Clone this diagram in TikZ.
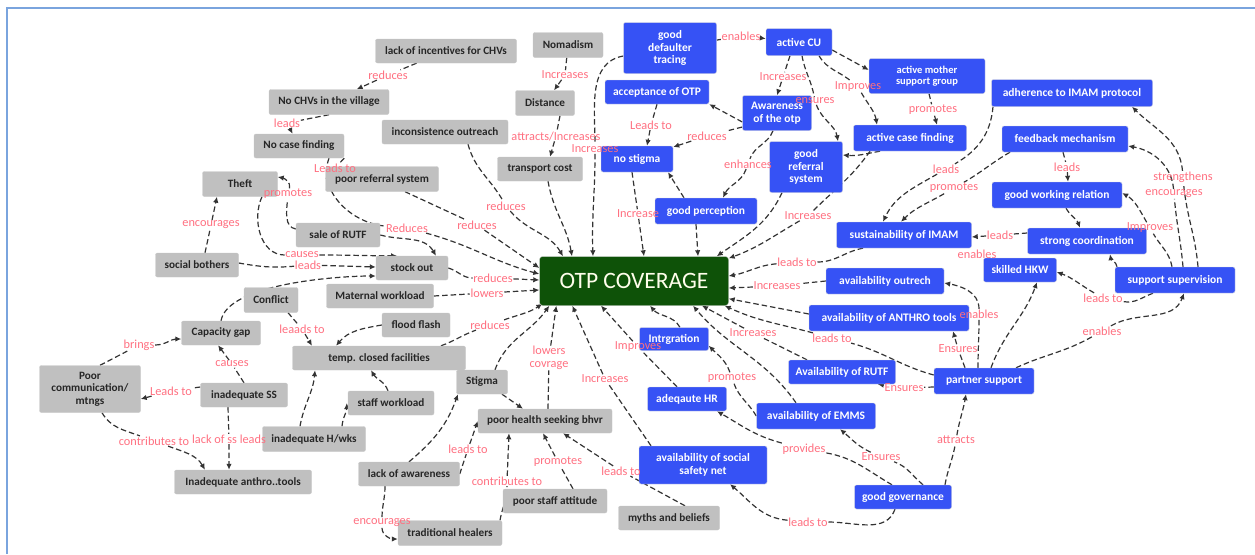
\documentclass[tikz,border=0pt]{standalone}
\usepackage{fontspec}
\setmainfont{Carlito}
\usetikzlibrary{arrows.meta,backgrounds}
\definecolor{boxgray}{HTML}{C0C0C0}
\definecolor{boxblue}{HTML}{3652F5}
\definecolor{otpgreen}{HTML}{0E5208}
\definecolor{lblpink}{HTML}{FF6F80}
\definecolor{linegray}{HTML}{333333}
\definecolor{framecol}{HTML}{7AA4DE}
\tikzset{
  sz/.style 2 args={minimum width=#1pt, minimum height=#2pt},
  gbox/.style={draw=black!22, fill=boxgray, rounded corners=2pt, text=black!85,
    font=\bfseries\fontsize{11.2}{12.5}\selectfont, inner sep=1pt, align=center},
  bbox/.style={draw=black!15, fill=boxblue, rounded corners=2pt, text=white,
    font=\bfseries\fontsize{11.5}{12.5}\selectfont, inner sep=1pt, align=center},
  smalltxt/.style={font=\bfseries\fontsize{10.5}{11.5}\selectfont},
  otpbox/.style={draw=black!20, fill=otpgreen, rounded corners=3pt, text=yellow!8,
    font=\fontsize{23.5}{26}\selectfont, inner sep=1pt},
  lbl/.style={text=lblpink, font=\fontsize{12.3}{12.5}\selectfont, inner sep=0.6pt, align=center},
  link/.style={draw=linegray, line width=1.2pt, dash pattern=on 5.5pt off 3pt,
    -{Latex[length=6pt,width=5.5pt]}},
}
\begin{document}
\begin{tikzpicture}[x=1pt,y=1pt]
  \useasboundingbox (0,0) rectangle (1255,-554);
  \draw[framecol, line width=2pt] (7,-554) -- (7,-8) -- (1255,-8);

  \node[otpbox, sz={189}{49}] (otp) at (634,-281) {OTP COVERAGE};

  \node[gbox, sz={141}{24}] (incent) at (446,-51) {lack of incentives for CHVs};
  \node[gbox, sz={120}{25}] (nochv) at (329,-102) {No CHVs in the village};
  \node[gbox, sz={90}{24}] (nocase) at (299,-146) {No case finding};
  \node[gbox, sz={126}{24}] (incons) at (445,-132) {inconsistence outreach};
  \node[gbox, sz={70}{25}] (nomad) at (568,-45) {Nomadism};
  \node[gbox, sz={59}{25}] (distance) at (545,-103) {Distance};
  \node[gbox, sz={85}{24}] (transport) at (540,-169) {transport cost};
  \node[gbox, sz={75}{25}] (theft) at (240,-184) {Theft};
  \node[gbox, sz={113}{25}] (poorref) at (382,-179) {poor referral system};
  \node[gbox, sz={84}{24}] (sale) at (338,-235) {sale of RUTF};
  \node[gbox, sz={83}{24}] (social) at (197,-265) {social bothers};
  \node[gbox, sz={72}{24}] (stockout) at (412,-268) {stock out};
  \node[gbox, sz={54}{25}] (conflict) at (271,-300) {Conflict};
  \node[gbox, sz={107}{24}] (maternal) at (380,-296) {Maternal workload};
  \node[gbox, sz={79}{24}] (capgap) at (221,-333) {Capacity gap};
  \node[gbox, sz={68}{24}] (flood) at (416,-325) {flood flash};
  \node[gbox, sz={173}{24}] (tempclosed) at (379,-358) {temp. closed facilities};
  \node[gbox, sz={101}{47}] (poorcomm) at (90,-389) {Poor\\communication/\\mtngs};
  \node[gbox, sz={87}{24}] (inadss) at (244,-395) {inadequate SS};
  \node[gbox, sz={51}{24}] (stigma) at (482,-382) {Stigma};
  \node[gbox, sz={86}{24}] (staffwl) at (391,-403) {staff workload};
  \node[gbox, sz={103}{25}] (inadhw) at (314,-439) {inadequate H/wks};
  \node[gbox, sz={134}{24}] (phsb) at (545,-421) {poor health seeking bhvr};
  \node[gbox, sz={137}{24}] (inadanthro) at (243,-482) {Inadequate anthro..tools};
  \node[gbox, sz={101}{24}] (lackaware) at (409,-474) {lack of awareness};
  \node[gbox, sz={104}{24}] (staffatt) at (555,-501) {poor staff attitude};
  \node[gbox, sz={101}{24}] (myths) at (669,-518) {myths and beliefs};
  \node[gbox, sz={104}{25}] (tradheal) at (450,-533) {traditional healers};

  \node[bbox, sz={93}{51}] (defaulter) at (670,-48) {good\\defaulter\\tracing};
  \node[bbox, sz={66}{27}] (activecu) at (799,-42) {active CU};
  \node[bbox, sz={104}{24}] (accept) at (657,-92) {acceptance of OTP};
  \node[bbox, sz={69}{35}] (aware) at (777,-113) {Awareness\\of the otp};
  \node[bbox, smalltxt, sz={116}{35}] (mothersg) at (927,-76) {active mother\\support group};
  \node[bbox, sz={161}{27}] (adherence) at (1072,-93) {adherence to IMAM protocol};
  \node[bbox, sz={113}{26}] (activecase) at (910,-138) {active case finding};
  \node[bbox, sz={126}{26}] (feedback) at (1065,-139) {feedback mechanism};
  \node[bbox, sz={73}{51}] (goodref) at (806,-167) {good\\referral\\system};
  \node[bbox, sz={72}{26}] (nostigma) at (637,-159) {no stigma};
  \node[bbox, sz={102}{26}] (goodperc) at (706,-211) {good perception};
  \node[bbox, sz={130}{26}] (goodwork) at (1057,-195) {good working relation};
  \node[bbox, sz={135}{26}] (sustain) at (904,-235) {sustainability of IMAM};
  \node[bbox, sz={119}{26}] (strongcoord) at (1087,-241) {strong coordination};
  \node[bbox, sz={73}{24}] (skilled) at (1020,-270) {skilled HKW};
  \node[bbox, sz={118}{26}] (outreach) at (885,-281) {availability outrech};
  \node[bbox, sz={120}{26}] (supsup) at (1175,-280) {support supervision};
  \node[bbox, sz={160}{26}] (anthro) at (889,-318) {availability of ANTHRO tools};
  \node[bbox, sz={69}{23}] (integ) at (674,-339) {Intrgration};
  \node[bbox, sz={107}{24}] (rutf) at (842,-372) {Availability of RUTF};
  \node[bbox, sz={100}{26}] (partner) at (984,-381) {partner support};
  \node[bbox, sz={79}{24}] (adeqhr) at (687,-399) {adeqaute HR};
  \node[bbox, sz={119}{26}] (emms) at (816,-416) {availability of EMMS};
  \node[bbox, sz={128}{38}] (safety) at (703,-465) {availability of social\\safety net};
  \node[bbox, sz={97}{24}] (governance) at (903,-497) {good governance};

  \node[lbl] (lRed1) at (388,-75) {reduces};
  \node[lbl] (lLeads1) at (287,-123) {leads};
  \node[lbl] (lLto1) at (335,-168) {Leads to};
  \node[lbl] (lProm1) at (288,-194) {promotes};
  \node[lbl] (lEnc1) at (211,-225) {encourages};
  \node[lbl] (lRedC) at (407,-228) {Reduces};
  \node[lbl] (lRed2) at (477,-225) {reduces};
  \node[lbl] (lRed3) at (506,-206) {reduces};
  \node[lbl] (lCaus1) at (302,-255) {causes};
  \node[lbl] (lLeads2) at (308,-265) {leads};
  \node[lbl] (lRed4) at (493,-278) {reduces};
  \node[lbl] (lLow) at (487,-293) {lowers};
  \node[lbl] (lLeaads) at (302,-329) {leaads to};
  \node[lbl] (lRed5) at (490,-325) {reduces};
  \node[lbl] (lBring) at (139,-345) {brings};
  \node[lbl] (lCaus2) at (232,-364) {causes};
  \node[lbl] (lLto2) at (171,-391) {Leads to};
  \node[lbl] (lContr1) at (154,-441) {contributes to};
  \node[lbl] (lLackss) at (229,-439) {lack of ss leads};
  \node[lbl] (lEnc2) at (382,-523) {encourages};
  \node[lbl] (lInc1) at (565,-75) {Increases};
  \node[lbl] (lAttr) at (556,-136) {attracts/Increases};
  \node[lbl] (lInc2) at (595,-149) {Increases};
  \node[lbl] (lLto3) at (468,-449) {leads to};
  \node[lbl] (lContr2) at (507,-481) {contributes to};
  \node[lbl] (lProm2) at (558,-462) {promotes};
  \node[lbl] (lLto4) at (621,-471) {leads to};
  \node[lbl] (lLowc) at (549,-358) {lowers\\covrage};
  \node[lbl] (lInc3) at (605,-379) {Increases};
  \node[lbl] (lImpr1) at (638,-347) {Improves};
  \node[lbl] (lProm3) at (732,-378) {promotes};
  \node[lbl] (lProv) at (804,-449) {provides};
  \node[lbl] (lLto5) at (808,-522) {leads to};
  \node[lbl] (lEns1) at (881,-457) {Ensures};
  \node[lbl] (lAttr2) at (956,-440) {attracts};
  \node[lbl] (lEns2) at (904,-388) {Ensures};
  \node[lbl] (lEns3) at (958,-349) {Ensures};
  \node[lbl] (lEnab1) at (979,-314) {enables};
  \node[lbl] (lEnab2) at (1102,-331) {enables};
  \node[lbl] (lLto6) at (832,-338) {leads to};
  \node[lbl] (lInc4) at (753,-333) {Increases};
  \node[lbl] (lInc5) at (777,-286) {Increases};
  \node[lbl] (lLto7) at (797,-262) {leads to};
  \node[lbl] (lInc6) at (808,-216) {Increases};
  \node[lbl] (lInc7) at (638,-214) {Increase};
  \node[lbl] (lLto8) at (651,-125) {Leads to};
  \node[lbl] (lRed6) at (707,-136) {reduces};
  \node[lbl] (lEnh) at (748,-164) {enhances};
  \node[lbl] (lInc8) at (783,-77) {Increases};
  \node[lbl] (lEnsu) at (815,-101) {ensures};
  \node[lbl] (lImpr2) at (858,-87) {Improves};
  \node[lbl] (lEnab3) at (741,-36) {enables};
  \node[lbl] (lProm4) at (933,-110) {promotes};
  \node[lbl] (lLeads3) at (946,-169) {leads};
  \node[lbl] (lProm5) at (954,-188) {promotes};
  \node[lbl] (lLeads4) at (1067,-167) {leads};
  \node[lbl] (lLeads5) at (1000,-235) {leads};
  \node[lbl] (lEnab4) at (977,-254) {enables};
  \node[lbl] (lStren) at (1183,-177) {strengthens};
  \node[lbl] (lEnc3) at (1174,-194) {encourages};
  \node[lbl] (lImpr3) at (1150,-228) {Improves};
  \node[lbl] (lLto9) at (1103,-298) {leads to};

  \begin{scope}[on background layer]
    \draw[link] (incent) -- (lRed1) -- (nochv);
    \draw[link] (nochv.south) -- (lLeads1) -- (nocase);
    \draw[link] (nocase.south east) -- (lLto1) -- (poorref.west);
    \draw[link] ([xshift=30pt]nocase.south) to[out=-110,in=175] (lRedC) to[out=-15,in=165] ([yshift=7pt]otp.west);
    \draw[link] ([xshift=23pt]poorref.south) -- (lRed2) -- ([yshift=13pt]otp.west);
    \draw[link] ([xshift=23pt]incons.south) to[out=-75,in=120] (lRed3) to[out=-50,in=120] ([xshift=-71pt]otp.north);
    \draw[link] (nomad) -- (lInc1) -- (distance);
    \draw[link] ([xshift=15pt]distance.south) -- (lAttr) -- ([xshift=10pt]transport.north);
    \draw[link] ([xshift=8pt]transport.south) to[out=-80,in=100] ([xshift=-62pt]otp.north);
    \draw[link] ([yshift=-8pt]defaulter.west) to[out=190,in=90] (lInc2) to[out=-90,in=92] ([xshift=-41pt]otp.north);
    \draw[link] ([xshift=8pt]social.north) -- (lEnc1) -- ([xshift=-23pt]theft.south);
    \draw[link] ([yshift=6pt]sale.west) to[out=170,in=-95] (lProm1) to[out=75,in=-10] ([yshift=7pt]theft.east);
    \draw[link] ([xshift=22pt]theft.south) to[out=-115,in=180] (lCaus1) to[out=0,in=180] ([xshift=-15pt]stockout.north);
    \draw[link] ([yshift=2pt]social.east) to[out=-10,in=185] (lLeads2) -- ([yshift=1pt]stockout.west);
    \draw[link] (capgap.north) to[out=80,in=180,looseness=0.6] ([yshift=-8pt]stockout.west);
    \draw[link] (sale.east) to[out=-15,in=120] ([xshift=24pt]stockout.north);
    \draw[link] (stockout.east) to[out=-15,in=180] (lRed4) -- ([yshift=1pt]otp.west);
    \draw[link] (maternal.east) -- (lLow) -- ([yshift=-9pt]otp.west);
    \draw[link] ([xshift=17pt]conflict.south) -- (lLeaads) -- ([xshift=-67pt]tempclosed.north);
    \draw[link] (flood.west) to[out=190,in=50] ([xshift=-43pt]tempclosed.north);
    \draw[link] ([xshift=62pt]tempclosed.north) to[out=20,in=200] (lRed5) to[out=20,in=215] ([xshift=3pt,yshift=2pt]otp.south west);
    \draw[link] ([xshift=10pt]poorcomm.north) -- (lBring) to[out=0,in=180] ([yshift=-6pt]capgap.west);
    \draw[link] (inadss.north) -- (lCaus2) -- ([xshift=-3pt]capgap.south);
    \draw[link] ([yshift=8pt]inadss.west) -- (lLto2) -- ([yshift=-10pt]poorcomm.east);
    \draw[link] ([xshift=12pt]poorcomm.south) to[out=-60,in=160] (lContr1) to[out=-20,in=120] ([xshift=-38pt]inadanthro.north);
    \draw[link] ([xshift=-16pt]inadss.south) -- (lLackss) -- ([xshift=-14pt]inadanthro.north);
    \draw[link] ([xshift=-14pt]inadhw.north) to[out=80,in=-95] ([xshift=-64pt]tempclosed.south);
    \draw[link] ([xshift=28pt]inadhw.north) to[out=85,in=-90] ([xshift=-1pt]staffwl.west);
    \draw[link] ([xshift=-3pt]staffwl.north) to[out=110,in=-60] ([xshift=-8pt]tempclosed.south);
    \draw[link] ([xshift=13pt]stigma.north) to[out=70,in=235] ([xshift=10pt]otp.south west);
    \draw[link] ([xshift=20pt]stigma.south) -- ([xshift=-22pt]phsb.north);
    \draw[link] (lackaware.north) to[out=40,in=-110] ([xshift=-24pt]stigma.south);
    \draw[link] (lackaware.east) -- (lLto3) -- (phsb.west);
    \draw[link] ([xshift=-24pt]lackaware.south) to[out=-90,in=90] (lEnc2) to[out=-90,in=180] ([yshift=-6pt]tradheal.west);
    \draw[link] ([xshift=50pt]tradheal.north) to[out=80,in=-90] (lContr2) -- ([xshift=-36pt]phsb.south);
    \draw[link] ([xshift=18pt]staffatt.north) -- (lProm2) -- ([xshift=-2pt]phsb.south);
    \draw[link] ([xshift=16pt]myths.north) -- (lLto4) -- ([xshift=18pt]phsb.south);
    \draw[link] ([xshift=3pt]phsb.north) -- (lLowc) -- ([xshift=17pt]otp.south west);
    \draw[link] ([xshift=-52pt]safety.north) -- (lInc3) -- ([xshift=33pt]otp.south west);
    \draw[link] ([xshift=-10pt]adeqhr.north) -- (lImpr1) -- ([xshift=-33pt]otp.south);
    \draw[link] ([xshift=6pt]integ.north) to[out=120,in=-50] ([xshift=16pt]otp.south);
    \draw[link] (emms.west) to[out=120,in=-70] (lProm3) to[out=110,in=-45] ([yshift=5pt]integ.south east);
    \draw[link] ([xshift=-20pt]emms.north) to[out=125,in=-50] ([xshift=59pt]otp.south);
    \draw[link] ([xshift=-35pt]rutf.north) -- (lInc4) -- ([xshift=68pt]otp.south);
    \draw[link] ([yshift=6pt]partner.west) to[out=165,in=-15] (lLto6) to[out=165,in=-25] ([xshift=-4pt]otp.south east);
    \draw[link] ([yshift=4pt]anthro.west) -- ([yshift=7pt]otp.south east);
    \draw[link] (outreach.west) -- (lInc5) -- ([yshift=-7pt]otp.east);
    \draw[link] ([xshift=-41pt]sustain.south) to[out=190,in=0] (lLto7) to[out=185,in=10] ([yshift=5pt]otp.east);
    \draw[link] ([xshift=-40pt]activecase.south) to[out=-125,in=45] (lInc6) to[out=-150,in=20] ([yshift=-2pt]otp.north east);
    \draw[link] ([xshift=-24pt]goodref.south) to[out=-115,in=35] ([xshift=-12pt]otp.north east);
    \draw[link] ([xshift=-10pt]goodperc.south) -- ([xshift=64pt]otp.north);
    \draw[link] ([xshift=-22pt]goodperc.north) -- ([xshift=31pt]nostigma.south);
    \draw[link] ([xshift=-5pt]nostigma.south) -- (lInc7) -- ([xshift=10pt]otp.north);
    \draw[link] (accept.south) -- (lLto8) -- ([xshift=10pt]nostigma.north);
    \draw[link] ([yshift=-9pt]aware.west) -- (accept.south east);
    \draw[link] ([yshift=-14pt]aware.west) -- (lRed6) -- ([yshift=12pt]nostigma.east);
    \draw[link] ([xshift=-4pt]aware.south) to[out=-110,in=70] (lEnh) to[out=-110,in=65] ([xshift=17pt]goodperc.north);
    \draw[link] ([xshift=-9pt]activecu.south) -- (lInc8) -- (aware.north);
    \draw[link] ([xshift=3pt]activecu.south) to[out=-80,in=100] (lEnsu) to[out=-70,in=100] ([xshift=32pt]goodref.north);
    \draw[link] ([xshift=20pt]activecu.south) to[out=-60,in=140] (lImpr2) to[out=-60,in=100] ([xshift=-33pt]activecase.north);
    \draw[link] ([yshift=-8pt]activecu.east) -- ([yshift=6pt]mothersg.west);
    \draw[link] (defaulter) -- (lEnab3) -- (activecu);
    \draw[link] ([xshift=2pt]mothersg.south) -- (lProm4) -- ([xshift=27pt]activecase.north);
    \draw[link] ([xshift=-30pt]activecase.south) to[out=190,in=-5] ([yshift=12pt]goodref.east);
    \draw[link] ([xshift=-79pt]adherence.south) to[out=-95,in=30] (lLeads3) to[out=-150,in=65] ([xshift=-21pt]sustain.north);
    \draw[link] ([xshift=-55pt]feedback.south) to[out=-150,in=30] (lProm5) to[out=-150,in=45] ([xshift=-3pt]sustain.north);
    \draw[link] ([xshift=-2pt]feedback.south) -- (lLeads4) -- ([xshift=11pt]goodwork.north);
    \draw[link] ([xshift=9pt]goodwork.south) to[out=-60,in=110] ([xshift=-7pt]strongcoord.north);
    \draw[link] ([yshift=8pt]strongcoord.west) -- (lLeads5) -- ([yshift=-2pt]sustain.east);
    \draw[link] ([xshift=23pt]supsup.north) to[out=95,in=-85] (lStren) to[out=95,in=-45] ([xshift=60pt]adherence.south);
    \draw[link] ([xshift=8pt]supsup.north) to[out=95,in=-85] (lEnc3) to[out=95,in=-10] ([yshift=-7pt]feedback.east);
    \draw[link] ([xshift=-3pt]supsup.north) to[out=100,in=-60] (lImpr3) to[out=120,in=-30] ([yshift=2pt]goodwork.east);
    \draw[link] ([xshift=-58pt]supsup.north) to[out=100,in=-80] ([xshift=23pt]strongcoord.south);
    \draw[link] ([xshift=-22pt]supsup.south) to[out=200,in=-10] (lLto9) to[out=150,in=-20] ([yshift=-2pt]skilled.east);
    \draw[link] ([xshift=32pt]partner.north) to[out=25,in=-150] (lEnab2) to[out=30,in=-110] ([xshift=9pt]supsup.south);
    \draw[link] ([xshift=7pt]partner.north) to[out=70,in=-110] ([xshift=17pt]skilled.south);
    \draw[link] ([xshift=-6pt]partner.north) to[out=90,in=-90] (lEnab1) to[out=90,in=-10] ([yshift=-2pt]outreach.east);
    \draw[link] ([xshift=-19pt]partner.north) -- (lEns3) -- ([xshift=64pt]anthro.south);
    \draw[link] ([yshift=-6pt]partner.west) -- (lEns2) -- ([xshift=-18pt]rutf.south east);
    \draw[link] ([xshift=42pt]governance.north) to[out=80,in=-100] (lAttr2) to[out=80,in=-100] ([xshift=-18pt]partner.south);
    \draw[link] ([xshift=20pt]governance.north) to[out=140,in=-20] (lEns1) to[out=155,in=-40] ([xshift=24pt]emms.south);
    \draw[link] ([xshift=-11pt]governance.north) to[out=150,in=-10] (lProv) to[out=165,in=-30] ([xshift=30pt]adeqhr.south);
    \draw[link] ([xshift=-8pt]governance.south) to[out=-110,in=0] (lLto5) to[out=175,in=-40] ([xshift=27pt]safety.south);
  \end{scope}
\end{tikzpicture}
\end{document}
